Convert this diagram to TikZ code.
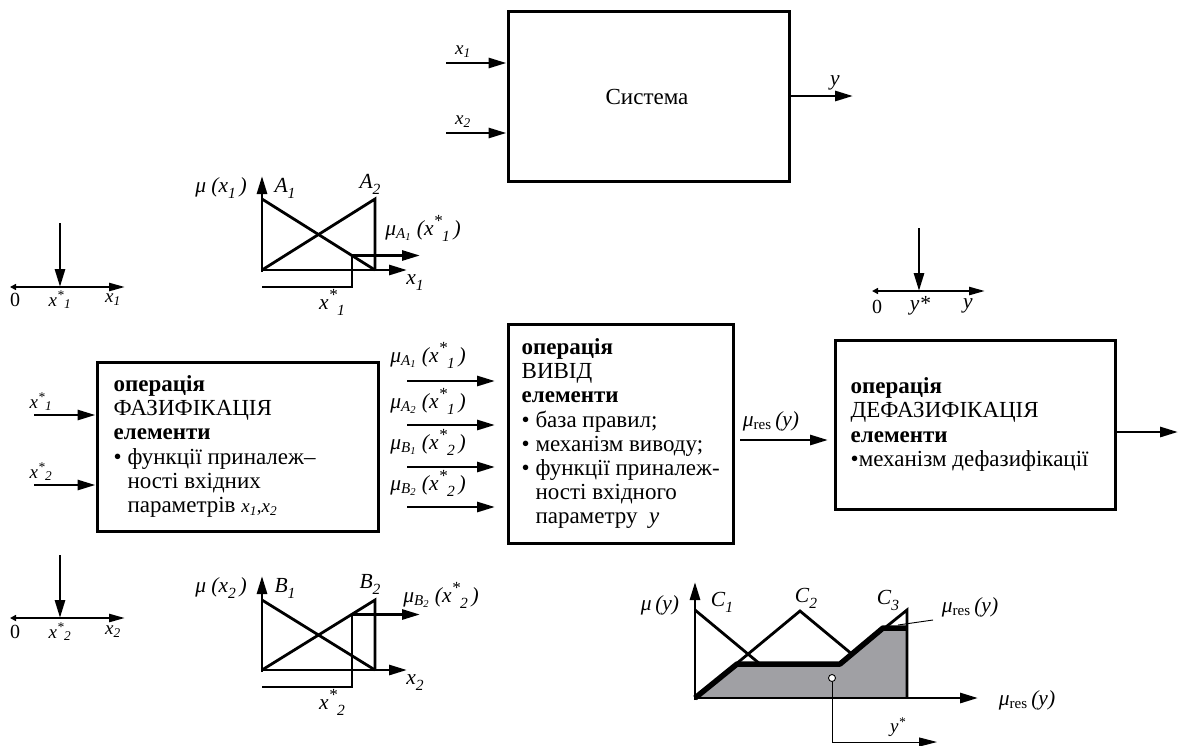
\documentclass[tikz,border=0pt]{standalone}
\usepackage{fontspec}
\setmainfont{Liberation Serif}
\usetikzlibrary{arrows.meta}
\newcommand{\mysb}[1]{\textsubscript{#1}}
\newcommand{\mysp}[1]{\textsuperscript{#1}}
\newcommand{\lsb}[1]{\raisebox{-0.28em}{\fontsize{15.5}{16}\selectfont #1}}
\newcommand{\lsp}[1]{\raisebox{0.42em}{\fontsize{17}{17}\selectfont #1}}
\definecolor{areagray}{RGB}{160,160,164}
\begin{document}
\begin{tikzpicture}[x=1pt,y=-1pt,
  lw/.style={line width=2.8pt},
  arr/.style={line width=2.8pt,-{Triangle[length=18pt,width=10pt]}},
  axarr/.style={line width=2.4pt,{Triangle[length=6pt,width=6pt]}-{Triangle[length=16pt,width=8pt]}},
  thinl/.style={line width=0.9pt},
  box/.style={draw,line width=3pt,rectangle,inner sep=0pt},
  txt/.style={font=\fontsize{23}{24.2}\selectfont, align=left, inner sep=0pt, anchor=west},
  lab/.style={font=\fontsize{21.5}{23}\selectfont\itshape, inner sep=0pt},
  slab/.style={font=\fontsize{19}{21}\selectfont\itshape, inner sep=0pt},
]
\useasboundingbox (0,0) rectangle (1182,745);

% ---------- System ----------
\node[box, minimum width=281pt, minimum height=170pt] (sys) at (648.5,96) {};
\node[font=\fontsize{23}{24}\selectfont, inner sep=0pt] (systxt) at (647,97) {Система};
\coordinate (sx1) at (446,63);
\coordinate (sx2) at (446,133);
\coordinate (sy) at (853,96);
\draw[arr] (sx1) -- (sx1 -| sys.west);
\draw[arr] (sx2) -- (sx2 -| sys.west);
\draw[arr] (sy -| sys.east) -- (sy);
\node[slab] (lx1) at (463,52) {x\mysb{1}};
\node[slab] (lx2) at (463,122) {x\mysb{2}};
\node[lab] (ly) at (835,83) {y};

% ---------- left axes ----------
\coordinate (a1l) at (10,287); \coordinate (a1r) at (125,287);
\coordinate (a1t) at (60,223); \coordinate (a1b) at (60,287);
\draw[axarr] (a1l) -- (a1r);
\draw[arr] (a1t) -- (a1b);
\node[slab,font=\fontsize{20}{22}\selectfont] (z1) at (15,300) {0};
\node[slab] (xs1) at (60,300) {x\mysp{*}\mysb{1}};
\node[slab] (xa1) at (113,300) {x\mysb{1}};

\coordinate (a2l) at (10,618); \coordinate (a2r) at (125,618);
\coordinate (a2t) at (60,555); \coordinate (a2b) at (60,618);
\draw[axarr] (a2l) -- (a2r);
\draw[arr] (a2t) -- (a2b);
\node[slab,font=\fontsize{20}{22}\selectfont] (z2) at (15,632) {0};
\node[slab] (xs2) at (60,632) {x\mysp{*}\mysb{2}};
\node[slab] (xa2) at (113,632) {x\mysb{2}};

% ---------- right axis ----------
\coordinate (ayl) at (872,291); \coordinate (ayr) at (985,291);
\coordinate (ayt) at (919,228); \coordinate (ayb) at (919,291);
\draw[axarr] (ayl) -- (ayr);
\draw[arr] (ayt) -- (ayb);
\node[slab,font=\fontsize{20}{22}\selectfont] (z3) at (877,307) {0};
\node[lab] (ys) at (920,306) {y*};
\node[lab] (ya) at (968,306) {y};

% ---------- plot A ----------
\draw[lw] (262,199) -- (375,270);
\draw[lw] (262,270) -- (375,199) -- (375,270);
\draw[arr] (262,272) -- (262,176);
\draw[arr] (262,270) -- (407,270);
\draw[lw] (262,287) -- (352,287) -- (352,255.5);
\draw[arr] (352,255.5) -- (420,255.5);
\node[lab] (muA) at (221,188) {μ (x\lsb{1}\,)};
\node[lab] (A1) at (285,188) {A\lsb{1}};
\node[lab] (A2) at (370,184) {A\lsb{2}};
\node[lab] (muAs) at (423,228) {μ\mysb{A\mysb{1}} (x\lsp{*}\lsb{1}\,)};
\node[lab] (x1ax) at (415,283) {x\lsb{1}};
\node[lab] (x1st) at (332,302) {x\lsp{*}\lsb{1}};

% ---------- plot B ----------
\draw[lw] (262,600) -- (375,670);
\draw[lw] (262,670) -- (375,600) -- (375,670);
\draw[arr] (262,672) -- (262,576);
\draw[arr] (262,670) -- (407,670);
\draw[lw] (262,687) -- (352,687) -- (352,614.5);
\draw[arr] (352,614.5) -- (420,614.5);
\node[lab] (muB) at (221,588) {μ (x\lsb{2}\,)};
\node[lab] (B1) at (285,588) {B\lsb{1}};
\node[lab] (B2) at (370,584) {B\lsb{2}};
\node[lab] (muBs) at (441,595) {μ\mysb{B\mysb{2}} (x\lsp{*}\lsb{2}\,)};
\node[lab] (x2ax) at (415,683) {x\lsb{2}};
\node[lab] (x2st) at (332,702) {x\lsp{*}\lsb{2}};

% ---------- fuzzification ----------
\node[box, minimum width=281pt, minimum height=169pt] (fuz) at (237.5,446.5) {};
\node[txt] (fuzt) at ([xshift=18pt]fuz.west) {\textbf{операція}\\ФАЗИФІКАЦІЯ\\\textbf{елементи}\\• функції приналеж–\\\hphantom{• }ності вхідних\\\hphantom{• }параметрів {\fontsize{19}{20}\selectfont\textit{x\mysb{1}},\textit{x\mysb{2}}}};
\coordinate (fi1) at (34,415);
\coordinate (fi2) at (34,485);
\draw[arr] (fi1) -- (fi1 -| fuz.west);
\draw[arr] (fi2) -- (fi2 -| fuz.west);
\node[slab] (lfi1) at (41,402) {x\mysp{*}\mysb{1}};
\node[slab] (lfi2) at (41,472) {x\mysp{*}\mysb{2}};

% ---------- inference ----------
\node[box, minimum width=225pt, minimum height=219pt] (inf) at (620.5,433.7) {};
\node[txt] (inft) at ([xshift=15pt]inf.west) {\textbf{операція}\\ВИВІД\\\textbf{елементи}\\• база правил;\\• механізм виводу;\\• функції приналеж-\\\hphantom{• }ності вхідного\\\hphantom{• }параметру \textit{ y}};
\foreach \yy/\nm in {381/i1,425/i2,467/i3,507/i4}{
  \coordinate (\nm s) at (407,\yy);
  \coordinate (\nm e) at (495,\yy);
  \draw[arr] (\nm s) -- (\nm e);
}
\node[lab] (lmA1) at (428,355) {μ\mysb{A\mysb{1}} (x\lsp{*}\lsb{1}\,)};
\node[lab] (lmA2) at (428,401) {μ\mysb{A\mysb{2}} (x\lsp{*}\lsb{1}\,)};
\node[lab] (lmB1) at (428,442) {μ\mysb{B\mysb{1}} (x\lsp{*}\lsb{2}\,)};
\node[lab] (lmB2) at (428,483) {μ\mysb{B\mysb{2}} (x\lsp{*}\lsb{2}\,)};

% ---------- defuzzification ----------
\node[box, minimum width=280pt, minimum height=169pt] (def) at (975,424.5) {};
\node[txt] (deft) at ([xshift=17pt]def.west) {\textbf{операція}\\ДЕФАЗИФІКАЦІЯ\\\textbf{елементи}\\•механізм дефазифікації};
\coordinate (rs) at (740,440);
\coordinate (re) at (828,440);
\draw[arr] (rs) -- (re);
\node[lab] (lres) at (771,421) {μ\mysb{\upshape res}\,(y)};
\coordinate (dout) at (1178,432);
\draw[arr] (dout -| def.east) -- (dout);

% ---------- plot C ----------
\fill[areagray] (695,698) -- (737,664) -- (840,664) -- (883,628) -- (907,628) -- (907,698) -- cycle;
\draw[lw] (695,610) -- (760,664);
\draw[lw] (695,698) -- (800,611) -- (853,655);
\draw[lw] (840,664) -- (907,610) -- (907,698);
\draw[arr] (695,700) -- (695,582);
\draw[arr] (695,698) -- (978,698);
\draw[line width=5.5pt, line join=round] (695,698) -- (737,664) -- (840,664) -- (883,628) -- (907,628);
\node[draw, circle, thinl, fill=white, minimum size=7pt, inner sep=0pt] (cg) at (832,678) {};
\coordinate (ycorner) at (832,742);
\coordinate (yend) at (937,742);
\draw[thinl, -{Triangle[length=18pt,width=9pt]}] (cg) -- (ycorner) -- (yend);
\coordinate (ldA) at (898,625);
\coordinate (ldB) at (933,620);
\draw[thinl] (ldA) -- (ldB);
\node[lab] (muy) at (660,605) {μ\,(y)};
\node[lab] (C1) at (722,602) {C\lsb{1}};
\node[lab] (C2) at (806,598) {C\lsb{2}};
\node[lab] (C3) at (888,600) {C\lsb{3}};
\node[lab] (res1) at (970,607) {μ\mysb{\upshape res}\,(y)};
\node[lab] (res2) at (1027,700) {μ\mysb{\upshape res}\,(y)};
\node[slab] (ystar) at (898,727) {y\mysp{*}};
\end{tikzpicture}
\end{document}
